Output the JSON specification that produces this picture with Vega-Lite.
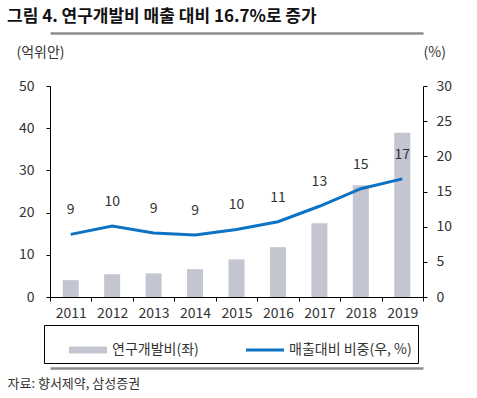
{
  "$schema": "https://vega.github.io/schema/vega-lite/v6.json",
  "width": 373,
  "height": 211,
  "autosize": {"type": "none"},
  "padding": {"left": 50, "top": 86, "right": 54, "bottom": 101},
  "background": "white",
  "config": {
    "font": "Noto Sans CJK KR",
    "view": {"stroke": null},
    "axis": {
      "grid": false,
      "labelFontSize": 14,
      "labelColor": "#333333",
      "domainColor": "#000000",
      "tickColor": "#000000",
      "tickSize": 4,
      "titleFontSize": 14,
      "titleFontWeight": "normal",
      "titleColor": "#333333"
    },
    "legend": {
      "orient": "none",
      "legendX": -6,
      "legendY": 239,
      "direction": "horizontal",
      "strokeColor": "#000000",
      "padding": 6,
      "symbolOffset": 19,
      "columnPadding": 28,
      "labelOffset": 5,
      "labelFontSize": 14,
      "labelColor": "#333333",
      "symbolSize": 1444
    }
  },
  "title": {
    "text": "그림 4. 연구개발비 매출 대비 16.7%로 증가",
    "anchor": "start",
    "frame": "group",
    "fontSize": 17,
    "fontWeight": "bold",
    "color": "#111111",
    "dx": -43,
    "offset": 7
  },
  "data": {
    "values": [
      {"year": "2011", "amount": 4.0, "pct": 8.9},
      {"year": "2012", "amount": 5.4, "pct": 10.1},
      {"year": "2013", "amount": 5.6, "pct": 9.1},
      {"year": "2014", "amount": 6.6, "pct": 8.8},
      {"year": "2015", "amount": 8.9, "pct": 9.6},
      {"year": "2016", "amount": 11.8, "pct": 10.7},
      {"year": "2017", "amount": 17.5, "pct": 12.9},
      {"year": "2018", "amount": 26.5, "pct": 15.4},
      {"year": "2019", "amount": 38.9, "pct": 16.8}
    ]
  },
  "layer": [
    {
      "mark": {"type": "bar", "size": 16},
      "encoding": {
        "x": {
          "field": "year",
          "type": "ordinal",
          "scale": {"paddingInner": 0, "paddingOuter": 0},
          "axis": {
            "orient": "bottom",
            "title": null,
            "labelAngle": 0,
            "tickBand": "extent",
            "labelPadding": 5
          }
        },
        "y": {
          "field": "amount",
          "type": "quantitative",
          "scale": {"domain": [0, 50]},
          "axis": {
            "orient": "left",
            "values": [0, 10, 20, 30, 40, 50],
            "labelPadding": 12,
            "title": "(억위안)",
            "titleAngle": 0,
            "titleAlign": "left",
            "titleBaseline": "middle",
            "titleX": -34,
            "titleY": -34
          }
        },
        "color": {
          "datum": "연구개발비(좌)",
          "type": "nominal",
          "scale": {
            "domain": ["연구개발비(좌)", "매출대비 비중(우, %)"],
            "range": ["#c3c5d1", "#0c72c3"]
          },
          "legend": {
            "title": null,
            "symbolType": "square",
            "encode": {
              "symbols": {
                "update": {
                  "shape": {"signal": "datum.value === '연구개발비(좌)' ? 'M-1,-0.19H1V0.19H-1Z' : 'M-1,-0.08H1V0.08H-1Z'"},
                  "fill": {"signal": "scale('color', datum.value)"},
                  "stroke": {"value": "transparent"},
                  "strokeWidth": {"value": 0},
                  "size": {"value": 1444},
                  "opacity": {"value": 1}
                }
              }
            }
          }
        }
      }
    },
    {
      "mark": {"type": "line", "strokeWidth": 3},
      "encoding": {
        "x": {
          "field": "year",
          "type": "ordinal",
          "axis": {
            "orient": "top",
            "offset": 53,
            "labels": false,
            "ticks": false,
            "title": null,
            "domainColor": "#8c8c8c",
            "domainWidth": 2.5
          }
        },
        "y": {
          "field": "pct",
          "type": "quantitative",
          "scale": {"domain": [0, 30]},
          "axis": {
            "orient": "right",
            "values": [0, 5, 10, 15, 20, 25, 30],
            "labelPadding": 9,
            "title": "(%)",
            "titleAngle": 0,
            "titleAlign": "left",
            "titleBaseline": "middle",
            "titleX": 0,
            "titleY": -34
          }
        },
        "color": {"datum": "매출대비 비중(우, %)", "type": "nominal"}
      }
    },
    {
      "mark": {"type": "text", "dy": -24, "fontSize": 14, "color": "#333333", "baseline": "middle"},
      "encoding": {
        "x": {
          "field": "year",
          "type": "ordinal",
          "axis": {
            "orient": "bottom",
            "offset": 71,
            "labels": false,
            "ticks": false,
            "domainColor": "#8c8c8c",
            "domainWidth": 2.5,
            "title": "자료: 향서제약, 삼성증권",
            "titleFontSize": 13,
            "titleAnchor": "start",
            "titleAlign": "left",
            "titleBaseline": "middle",
            "titleX": -43,
            "titleY": 15
          }
        },
        "y": {
          "field": "pct",
          "type": "quantitative",
          "scale": {"domain": [0, 30]},
          "axis": null
        },
        "text": {"field": "pct", "type": "quantitative", "format": ".0f"}
      }
    }
  ],
  "resolve": {
    "scale": {"y": "independent"},
    "axis": {"x": "independent", "y": "independent"}
  }
}
